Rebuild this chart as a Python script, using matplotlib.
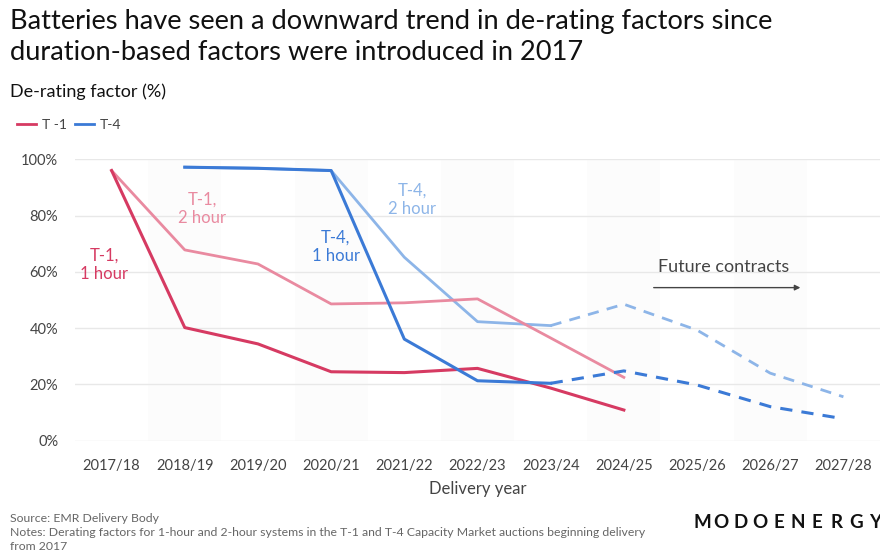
import numpy as np
import matplotlib.pyplot as plt

years = ['2017/18', '2018/19', '2019/20', '2020/21', '2021/22', '2022/23',
         '2023/24', '2024/25', '2025/26', '2026/27', '2027/28']

# values (%), None = no data
t1_1h = [96, 40.2, 34.4, 24.5, 24.2, 25.7, 18.7, 10.9, None, None, None]
t1_2h = [96, 67.8, 62.8, 48.6, 49.0, 50.4, 36.5, 22.5, None, None, None]
t4_1h = [None, 97.2, 96.8, 96.0, 36.1, 21.3, 20.4, None, None, None, None]
t4_2h = [None, 97.2, 96.8, 96.0, 65.2, 42.3, 40.9, None, None, None, None]
t4_1h_future = [None, None, None, None, None, None, 20.4, 24.8, 19.8, 12.1, 7.8]
t4_2h_future = [None, None, None, None, None, None, 40.9, 48.5, 39.3, 24.0, 15.6]

c_t1_1h = '#d63a62'
c_t1_2h = '#e98aa0'
c_t4_1h = '#3b7ad6'
c_t4_2h = '#8db5e8'
grey = '#444444'

plt.rcParams['font.family'] = ['Lato', 'DejaVu Sans']


def to_arr(vals):
    return np.array([np.nan if v is None else v for v in vals], dtype=float)


fig = plt.figure(figsize=(8.8, 5.52), dpi=100)
ax = fig.add_axes([75 / 880, 111.3 / 552, 805 / 880, 281.4 / 552])
x = np.arange(len(years))

# very faint alternating bands in the plot background
for i in range(len(years)):
    if i % 2 == 1:
        ax.axvspan(i - 0.5, i + 0.5, color='#fcfcfc', zorder=0, lw=0)

ax.plot(x, to_arr(t4_2h), color=c_t4_2h, lw=2, zorder=3)
ax.plot(x, to_arr(t4_2h_future), color=c_t4_2h, lw=2, ls=(0, (4, 3)), zorder=3)
ax.plot(x, to_arr(t1_2h), color=c_t1_2h, lw=2, zorder=3)
ax.plot(x, to_arr(t1_1h), color=c_t1_1h, lw=2.2, zorder=4)
ax.plot(x, to_arr(t4_1h), color=c_t4_1h, lw=2.2, zorder=4)
ax.plot(x, to_arr(t4_1h_future), color=c_t4_1h, lw=2.2, ls=(0, (4, 3)), zorder=4)

ax.set_xlim(-0.5, 10.5)
ax.set_ylim(0, 100)
ax.set_yticks([0, 20, 40, 60, 80, 100])
ax.set_yticklabels(['0%', '20%', '40%', '60%', '80%', '100%'])
ax.set_xticks(x)
ax.set_xticklabels(years)
ax.tick_params(length=0, labelsize=10.5, colors=grey, pad=12)
ax.tick_params(axis='x', pad=13)
ax.grid(axis='y', color='#e8e8e8', lw=1)
ax.set_axisbelow(True)
for s in ax.spines.values():
    s.set_visible(False)
ax.set_xlabel('Delivery year', fontsize=12, color=grey, labelpad=6)

# series annotations
ax.text(-0.1, 62.5, 'T-1,\n1 hour', color=c_t1_1h, fontsize=12, ha='center', va='center', linespacing=1.2)
ax.text(1.24, 82.5, 'T-1,\n2 hour', color=c_t1_2h, fontsize=12, ha='center', va='center', linespacing=1.2)
ax.text(3.06, 69, 'T-4,\n1 hour', color=c_t4_1h, fontsize=12, ha='center', va='center', linespacing=1.2)
ax.text(4.11, 85.5, 'T-4,\n2 hour', color=c_t4_2h, fontsize=12, ha='center', va='center', linespacing=1.2)
ax.text(8.37, 61.8, 'Future contracts', color=grey, fontsize=13, ha='center', va='center')
ax.annotate('', xy=(9.45, 54.4), xytext=(7.37, 54.4),
            arrowprops=dict(arrowstyle='-|>', color=grey, lw=1, mutation_scale=8))

# titles and header
fig.text(10 / 880, 1 - 22 / 552, 'Batteries have seen a downward trend in de-rating factors since',
         fontsize=19.6, color='#111111', va='center')
fig.text(10 / 880, 1 - 52 / 552, 'duration-based factors were introduced in 2017',
         fontsize=19.6, color='#111111', va='center')
fig.text(10 / 880, 1 - 92 / 552, 'De-rating factor (%)', fontsize=13, color='#111111', va='center')

leg_handles = [plt.Line2D([], [], color=c_t1_1h, lw=2), plt.Line2D([], [], color=c_t4_1h, lw=2)]
fig.legend(leg_handles, ['T -1', 'T-4'], loc='center left', bbox_to_anchor=(4 / 880, 1 - 125 / 552),
           ncol=2, frameon=False, fontsize=10, handlelength=1.4, handletextpad=0.4,
           columnspacing=0.6, labelcolor=grey)

# footer
fig.text(10 / 880, 1 - 518 / 552, 'Source: EMR Delivery Body', fontsize=8.8, color='#666666', va='center')
fig.text(10 / 880, 1 - 532 / 552,
         'Notes: Derating factors for 1-hour and 2-hour systems in the T-1 and T-4 Capacity Market auctions beginning delivery',
         fontsize=8.8, color='#666666', va='center')
fig.text(10 / 880, 1 - 546 / 552, 'from 2017', fontsize=8.8, color='#666666', va='center')

logo = 'MODOENERGY'
for i, ch in enumerate(logo):
    fig.text((702 + i * 19.2) / 880, 1 - 522 / 552, ch, fontsize=13.5, fontweight='bold',
             color='#111111', va='center', ha='center')

fig.savefig('out.png', dpi=100)
